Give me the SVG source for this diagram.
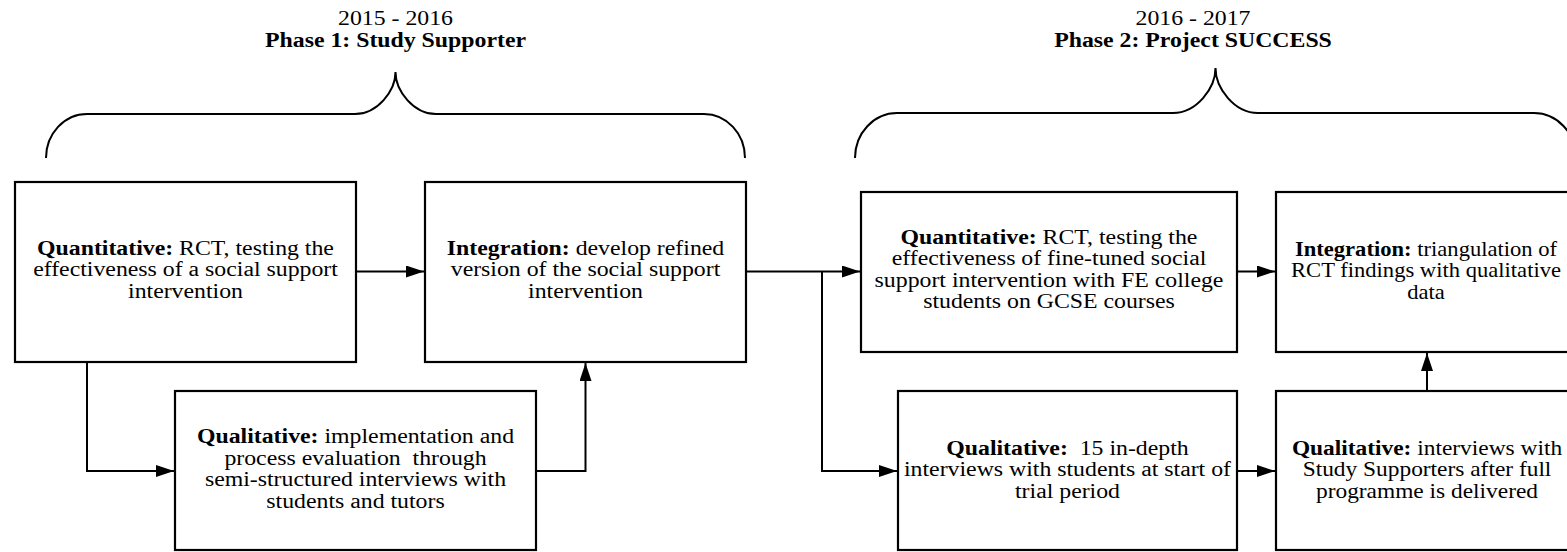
<svg xmlns="http://www.w3.org/2000/svg" width="1567" height="552" viewBox="0 0 1567 552">
<style>
.box{fill:#fff;stroke:#000;stroke-width:2.2}
.ln{fill:none;stroke:#000;stroke-width:2}
.br{fill:none;stroke:#000;stroke-width:2}
.t{font-family:"Liberation Serif","Times New Roman",serif;font-size:20px;text-anchor:middle;fill:#000}
.b{font-weight:bold}
</style>
<defs>
<marker id="ah" markerWidth="18" markerHeight="12" refX="18" refY="6" orient="auto" markerUnits="userSpaceOnUse"><path d="M0,0 L18,6 L0,12 z" fill="#000"/></marker>
</defs>
<rect width="1567" height="552" fill="#fff"/>
<g id="phase1-header">
<text class="t" transform="matrix(1.19 0 0 1 395.5 0)"><tspan x="0" y="25">2015 - 2016</tspan><tspan x="0" y="47" class="b">Phase 1: Study Supporter</tspan></text>
<path class="br" d="M46,158 C46,133.7 64.4,114 87,114 L355,114 C377.4,114 395.5,90.8 395.5,72 C395.5,90.8 413.6,114 436,114 L704,114 C726.6,114 745,133.7 745,158"/>
</g>
<g id="phase2-header">
<text class="t" transform="matrix(1.19 0 0 1 1193 0)"><tspan x="0" y="25">2016 - 2017</tspan><tspan x="0" y="47" class="b">Phase 2: Project SUCCESS</tspan></text>
<path class="br" d="M855,158 C855,133.2 873.8,113 897,113 L1173,113 C1196.5,113 1215.5,88.2 1215.5,68 C1215.5,88.2 1234.5,113 1258,113 L1534,113 C1557.2,113 1576,133.2 1576,158"/>
</g>
<g id="connectors">
<path class="ln" d="M356,271.5 H424" marker-end="url(#ah)"/>
<path class="ln" d="M87,362 V471 H174" marker-end="url(#ah)"/>
<path class="ln" d="M536,471 H585.5 V363" marker-end="url(#ah)"/>
<path class="ln" d="M746,271.5 H860" marker-end="url(#ah)"/>
<path class="ln" d="M822,271.5 V471 H897" marker-end="url(#ah)"/>
<path class="ln" d="M1237,271.5 H1275" marker-end="url(#ah)"/>
<path class="ln" d="M1237,471 H1275" marker-end="url(#ah)"/>
<path class="ln" d="M1427,391 V353" marker-end="url(#ah)"/>
</g>
<g id="p1-quant">
<rect class="box" x="15" y="182" width="341" height="180"/>
<text class="t" transform="matrix(1.19 0 0 1 185.5 0)"><tspan x="0" y="255"><tspan class="b">Quantitative:</tspan> RCT, testing the</tspan><tspan x="0" y="276.5">effectiveness of a social support</tspan><tspan x="0" y="298">intervention</tspan></text>
</g>
<g id="p1-integration">
<rect class="box" x="425" y="182" width="321" height="180"/>
<text class="t" transform="matrix(1.19 0 0 1 585.5 0)"><tspan x="0" y="255"><tspan class="b">Integration:</tspan> develop refined</tspan><tspan x="0" y="276.5">version of the social support</tspan><tspan x="0" y="298">intervention</tspan></text>
</g>
<g id="p1-qual">
<rect class="box" x="175" y="391" width="361" height="159"/>
<text class="t" transform="matrix(1.19 0 0 1 355.5 0)"><tspan x="0" y="443.5"><tspan class="b">Qualitative:</tspan> implementation and</tspan><tspan x="0" y="465" xml:space="preserve">process evaluation  through</tspan><tspan x="0" y="486.5">semi-structured interviews with</tspan><tspan x="0" y="508">students and tutors</tspan></text>
</g>
<g id="p2-quant">
<rect class="box" x="861" y="192" width="376" height="160"/>
<text class="t" transform="matrix(1.19 0 0 1 1049 0)"><tspan x="0" y="244"><tspan class="b">Quantitative:</tspan> RCT, testing the</tspan><tspan x="0" y="265.5">effectiveness of fine-tuned social</tspan><tspan x="0" y="287">support intervention with FE college</tspan><tspan x="0" y="308.5">students on GCSE courses</tspan></text>
</g>
<g id="p2-integration">
<rect class="box" x="1276" y="192" width="304" height="160"/>
<text class="t" transform="matrix(1.13 0 0 1 1426 0)"><tspan x="0" y="256"><tspan class="b">Integration:</tspan> triangulation of</tspan><tspan x="0" y="277.5">RCT findings with qualitative</tspan><tspan x="0" y="299">data</tspan></text>
</g>
<g id="p2-qual-students">
<rect class="box" x="898" y="391" width="339" height="159"/>
<text class="t" transform="matrix(1.19 0 0 1 1067.5 0)"><tspan x="0" y="455" xml:space="preserve"><tspan class="b">Qualitative:</tspan>  15 in-depth</tspan><tspan x="0" y="476.5">interviews with students at start of</tspan><tspan x="0" y="498">trial period</tspan></text>
</g>
<g id="p2-qual-supporters">
<rect class="box" x="1276" y="391" width="304" height="159"/>
<text class="t" transform="matrix(1.17 0 0 1 1427 0)"><tspan x="0" y="455"><tspan class="b">Qualitative:</tspan> interviews with</tspan><tspan x="0" y="476.5">Study Supporters after full</tspan><tspan x="0" y="498">programme is delivered</tspan></text>
</g>
</svg>
